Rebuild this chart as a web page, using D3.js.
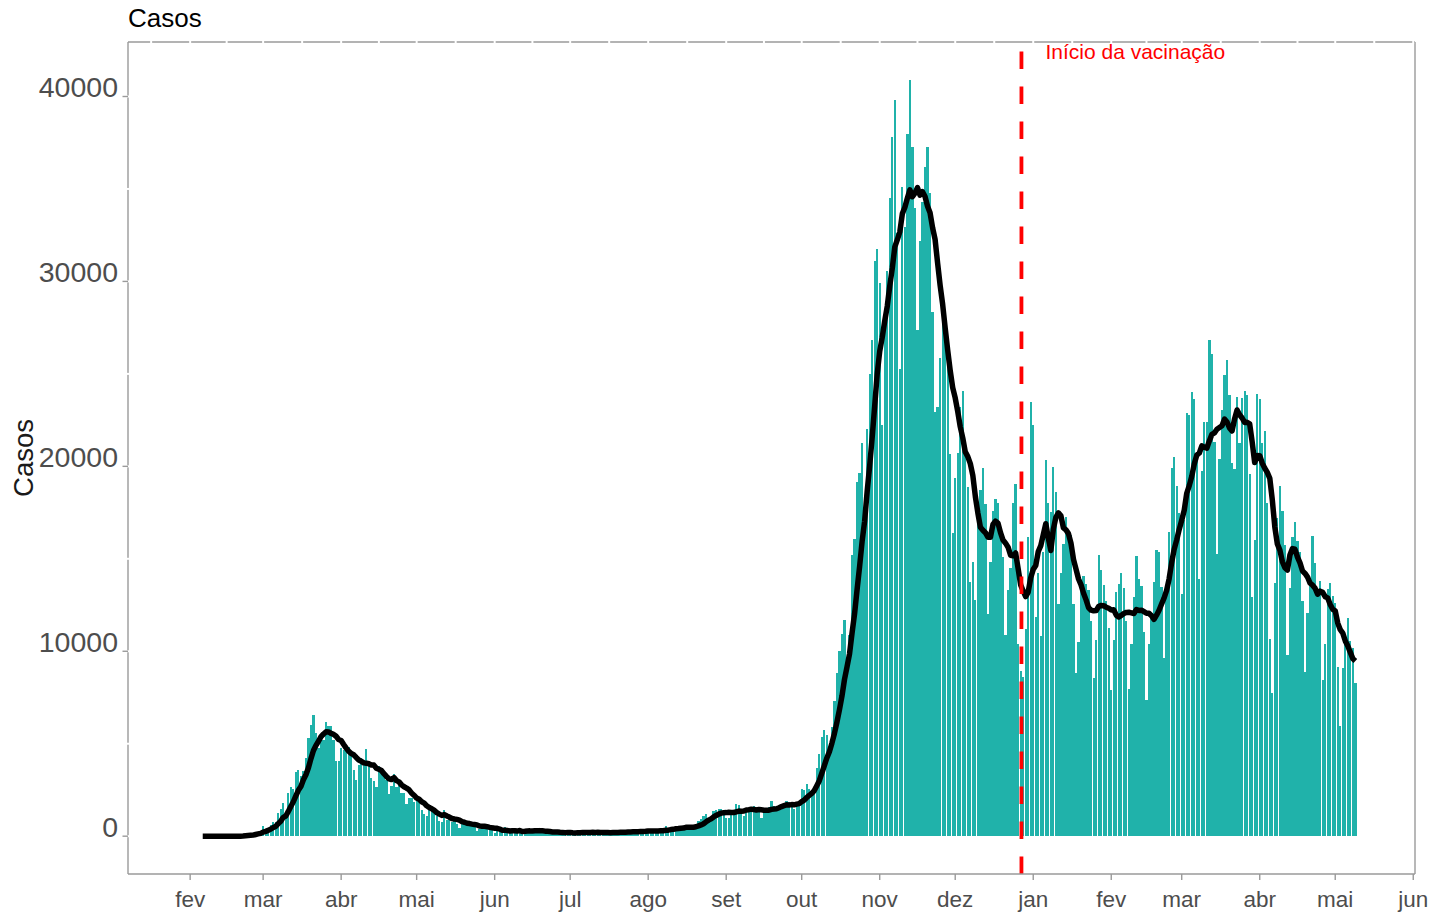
<!DOCTYPE html>
<html>
<head>
<meta charset="utf-8">
<script src="https://cdn.jsdelivr.net/npm/d3@7"></script>
<style>
  html, body { margin: 0; padding: 0; background: #fff; }
  svg text { font-family: "Liberation Sans", Arial, sans-serif; }
</style>
</head>
<body>
<svg id="chart" width="1429" height="914"></svg>
<script>
// Casos diários, um array por mês (a série começa em 31/01/2020)
const jan2020 = [2];
const fev2020 = [0,0,0,0,0,0,1,0,0,0,0,0,0,0,0,0,0,0,0,0,17,42,93,74,93,78,250,238,240];
const mar2020 = [566,342,466,587,769,778,1247,1492,1797,977,2313,2651,2547,3497,3590,3233,3526,4207,5322,5986,6557,5560,4789,5249,5210,6153,5959,5974,5217,4050,4053];
const abr2020 = [4782,4668,4585,4805,4316,3599,3039,3836,4204,3951,4694,4092,3153,2972,2667,3786,3493,3491,3047,2256,2729,3370,2646,3021,2357,2324,1739,2091,2086,1872];
const mai2020 = [1965,1900,1389,1221,1075,1444,1401,1327,1083,802,744,1402,888,992,789,875,675,451,813,665,642,652,669,531,300,397,584,593,516,416,355];
const jun2020 = [178,318,321,177,518,270,197,280,283,202,379,163,346,338,301,210,328,333,251,262,224,218,122,190,296,259,175,174,126,142];
const jul2020 = [187,201,223,235,192,208,138,193,229,276,188,234,169,114,162,230,233,249,219,218,190,129,282,306,252,275,255,170,212,289,386];
const ago2020 = [379,295,239,159,190,384,402,552,347,463,259,412,481,523,574,629,479,320,403,642,845,947,1071,1210,953,878,1367,1411,1460,1444,1365];
const set2020 = [996,978,1326,1397,1733,1695,1297,1108,1370,1434,1597,1616,1501,1458,1008,1229,1452,1585,1907,1638,1587,1392,1640,1786,1912,1869,1766,1494,1648,1851];
const out2020 = [2548,2499,2844,2578,2257,2677,3678,4458,5372,5724,5456,4619,5901,7332,8804,10010,10925,11705,9338,10874,15199,16079,19143,19644,21273,17012,21994,24991,26831,31084,31758];
const nov2020 = [29907,22253,28244,30550,34505,37809,39811,32616,25271,35098,32961,37978,40902,37255,33979,27354,32191,34283,36176,37242,34767,28337,22930,23232,25853,29003,28352,26323,20648,16377];
const dez2020 = [19350,20709,23225,24099,21052,18887,13720,14842,12756,16999,18727,19903,17938,12030,14844,17572,18236,17992,16308,15104,10872,13318,14522,18040,19037,10407,8913,8585,11212,16202,23477];
const jan2021 = [22211,11831,14245,10800,15378,20331,18020,17533,19978,18627,12532,14242,15774,17246,16146,16310,12545,8824,10497,13571,14078,13633,13331,11629,8561,10593,15204,14372,13574,12715,11252];
const fev2021 = [7925,10630,13189,13659,14218,13442,11641,7970,10404,12956,15146,13908,13532,11068,7351,10386,12074,13762,15479,15370,13452,9630,13314,16424,19886,20499,18916,17455];
const mar2021 = [13114,17083,22865,22774,24036,23641,20765,13902,19749,22409,22409,26824,26062,21315,15267,20396,23059,24935,25735,23832,20159,19850,23760,21267,23696,24076,23839,19611,12916,16017,23904];
const abr2021 = [23649,21261,21932,18025,10680,7767,13708,17221,18938,17567,15746,9789,13447,16168,16974,15943,15370,12694,8864,12074,13844,16232,14761,13158,13817,8444,10404,13385,13708,12965];
const mai2021 = [12600,9148,5948,9116,10404,11807,10554,10176,8292];

const inicioSerie = new Date(2020, 0, 31);
const inicioVacinacao = new Date(2020, 11, 27);
const rotuloVacinacao = "Início da vacinação";
const mesesAbrev = ["jan","fev","mar","abr","mai","jun","jul","ago","set","out","nov","dez"];
const yTicks = [0, 10000, 20000, 30000, 40000];
const yMinor = [5000, 15000, 25000, 35000];
const titulo = "Casos";

const casos = [].concat(jan2020, fev2020, mar2020, abr2020, mai2020, jun2020, jul2020,
  ago2020, set2020, out2020, nov2020, dez2020, jan2021, fev2021, mar2021, abr2021, mai2021);

const dados = casos.map((v, i) => ({
  data: d3.timeDay.offset(inicioSerie, i),
  casos: v,
  media: i >= 6 ? d3.mean(casos.slice(i - 6, i + 1)) : null
}));

const svg = d3.select("#chart");
const panel = { left: 128, right: 1415, top: 42, bottom: 874 };

// escala x com a mesma expansão de 5% usada em torno das barras
const DAY = 864e5;
const lo = inicioSerie.getTime() - 0.45 * DAY;
const hi = inicioSerie.getTime() + (casos.length - 1 + 0.45) * DAY;
const padX = 0.05 * (hi - lo);
const x = d3.scaleTime()
  .domain([new Date(lo - padX), new Date(hi + padX)])
  .range([panel.left, panel.right]);

const maxY = d3.max(casos);
const y = d3.scaleLinear()
  .domain([-0.05 * maxY, 1.05 * maxY])
  .range([panel.bottom, panel.top]);

const barW = 0.9 * (x(d3.timeDay.offset(inicioSerie, 1)) - x(inicioSerie));

// barras diárias
svg.append("g")
  .attr("shape-rendering", "crispEdges")
  .selectAll("rect")
  .data(dados)
  .join("rect")
  .attr("x", d => x(d.data) - barW / 2)
  .attr("width", barW)
  .attr("y", d => y(Math.max(0, d.casos)))
  .attr("height", d => y(0) - y(Math.max(0, d.casos)))
  .attr("fill", "#20B2AA");

// média móvel de 7 dias
const linha = d3.line()
  .defined(d => d.media !== null)
  .x(d => x(d.data))
  .y(d => y(d.media));
svg.append("path")
  .datum(dados)
  .attr("d", linha)
  .attr("fill", "none")
  .attr("stroke", "#000")
  .attr("stroke-width", 5.5)
  .attr("stroke-linejoin", "round");

// linha vertical do início da vacinação
const xv = x(inicioVacinacao) + 0.8;
svg.append("path")
  .attr("d", `M${xv},${panel.bottom}V${panel.top}`)
  .attr("stroke", "#FF0000")
  .attr("stroke-width", 3.8)
  .attr("stroke-dasharray", "17.5,17.5")
  .attr("fill", "none");
svg.append("text")
  .attr("x", xv + 24)
  .attr("y", 59)
  .attr("fill", "#FF0000")
  .attr("font-size", 21)
  .text(rotuloVacinacao);

// moldura do painel
const cinza = "#9a9a9a";
const frame = svg.append("g").attr("stroke", cinza).attr("stroke-width", 1.4).attr("fill", "none");
frame.append("line").attr("x1", panel.left).attr("x2", panel.right).attr("y1", panel.top).attr("y2", panel.top);
frame.append("line").attr("x1", panel.right).attr("x2", panel.right).attr("y1", panel.top).attr("y2", panel.bottom);
frame.append("line").attr("x1", panel.left).attr("x2", panel.right).attr("y1", panel.bottom).attr("y2", panel.bottom);
frame.append("line").attr("x1", panel.left).attr("x2", panel.left).attr("y1", panel.top).attr("y2", panel.bottom);

// linhas de grade brancas cruzando a moldura superior e o eixo y
const mesTicks = x.ticks(d3.timeMonth.every(1));
const xMinor = [];
for (let i = 0; i <= mesTicks.length; i++) {
  const a = i === 0 ? d3.timeMonth.offset(mesTicks[0], -1) : mesTicks[i - 1];
  const b = i === mesTicks.length ? d3.timeMonth.offset(mesTicks[i - 1], 1) : mesTicks[i];
  const m = new Date((a.getTime() + b.getTime()) / 2);
  if (x(m) > panel.left && x(m) < panel.right) xMinor.push(m);
}
const grade = svg.append("g").attr("stroke", "#fff").attr("stroke-width", 2);
grade.selectAll("line.gx").data(mesTicks.concat(xMinor)).join("line")
  .attr("x1", d => x(d)).attr("x2", d => x(d))
  .attr("y1", panel.top - 1.5).attr("y2", panel.top + 1.5);
grade.selectAll("line.gy").data(yTicks.concat(yMinor)).join("line")
  .attr("x1", panel.left - 1.5).attr("x2", panel.left + 1.5)
  .attr("y1", d => y(d)).attr("y2", d => y(d));

// eixo y
const gy = svg.append("g");
gy.selectAll("line").data(yTicks).join("line")
  .attr("x1", panel.left - 5.5).attr("x2", panel.left)
  .attr("y1", d => y(d)).attr("y2", d => y(d))
  .attr("stroke", cinza).attr("stroke-width", 1.4);
gy.selectAll("text").data(yTicks).join("text")
  .attr("x", 118).attr("y", d => y(d) + 0.5)
  .attr("text-anchor", "end")
  .attr("fill", "#4d4d4d")
  .attr("font-size", 28.5)
  .text(d => d3.format("d")(d));

// eixo x
const gx = svg.append("g");
gx.selectAll("line").data(mesTicks).join("line")
  .attr("x1", d => x(d)).attr("x2", d => x(d))
  .attr("y1", panel.bottom).attr("y2", panel.bottom + 6)
  .attr("stroke", cinza).attr("stroke-width", 1.4);
gx.selectAll("text").data(mesTicks).join("text")
  .attr("x", d => x(d)).attr("y", 907)
  .attr("text-anchor", "middle")
  .attr("fill", "#4d4d4d")
  .attr("font-size", 22.5)
  .text(d => mesesAbrev[d.getMonth()]);

// títulos
svg.append("text")
  .attr("x", panel.left).attr("y", 26.5)
  .attr("fill", "#000").attr("font-size", 26)
  .text(titulo);
svg.append("text")
  .attr("transform", `translate(33,${(panel.top + panel.bottom) / 2}) rotate(-90)`)
  .attr("text-anchor", "middle")
  .attr("fill", "#1a1a1a").attr("font-size", 27.5)
  .text(titulo);
</script>
</body>
</html>
